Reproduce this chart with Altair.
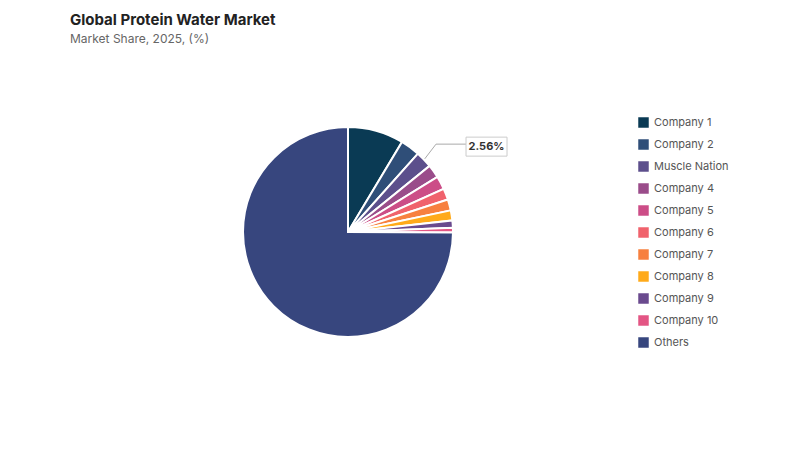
import altair as alt
import pandas as pd

companies = ["Company 1", "Company 2", "Muscle Nation", "Company 4", "Company 5",
             "Company 6", "Company 7", "Company 8", "Company 9", "Company 10", "Others"]
shares = [8.6, 3.0, 2.56, 2.06, 2.03, 1.75, 1.7, 1.55, 1.1, 0.72, 74.93]
colors = ["#0a3a54", "#2f4e78", "#5c4f8c", "#9a4c8a", "#cc4d87", "#f0626c",
          "#f7803f", "#ffaa1a", "#6a4a8e", "#e35584", "#37467e"]
label_company = "Muscle Nation"
label_text = "2.56%"

df = pd.DataFrame({"company": companies, "share": shares,
                   "idx": list(range(len(companies)))})

OX, OY = 70, 53          # plot origin on page
CX, CY = 348 - OX, 232 - OY
R = 105

base = alt.Chart(df)

pie = base.mark_arc(outerRadius=R, stroke="white", strokeWidth=2).encode(
    theta=alt.Theta("share:Q", stack=True),
    order=alt.Order("idx:Q"),
    color=alt.Color("company:N",
                    scale=alt.Scale(domain=companies, range=colors),
                    sort=companies,
                    legend=alt.Legend(title=None, orient="none", legendX=568, legendY=64,
                                      symbolType="square", symbolSize=110,
                                      symbolStrokeWidth=0, labelFontSize=11,
                                      labelColor="#555555", labelFont="Inter",
                                      rowPadding=10, labelOffset=5)),
    x=alt.value(CX), y=alt.value(CY),
)

geo = base.transform_window(
    cum="sum(share)", sort=[alt.SortField("idx")]
).transform_joinaggregate(
    total="sum(share)"
).transform_filter(
    alt.datum.company == label_company
).transform_calculate(
    mid="(datum.cum - datum.share/2)/datum.total*2*PI",
).transform_calculate(
    x0=f"{CX} + {R+1}*sin(datum.mid)",
    y0=f"{CY} - {R+1}*cos(datum.mid)",
    x1=f"{CX} + {R+18}*sin(datum.mid) - 1",
    y1=f"{CY} - {R+18}*cos(datum.mid) - 3",
).transform_calculate(
    x2="datum.x1 + 30",
    bx1="datum.x1 + 30",
    bx2="datum.x1 + 71",
    by1="datum.y1 - 7",
    by2="datum.y1 + 12",
    tx="datum.x1 + 50.5",
    ty="datum.y1 + 2.5",
)

lead1 = geo.mark_rule(color="#aaaaaa", strokeWidth=1).encode(
    x=alt.X("x0:Q", scale=None), y=alt.Y("y0:Q", scale=None),
    x2="x1:Q", y2="y1:Q")
lead2 = geo.mark_rule(color="#aaaaaa", strokeWidth=1).encode(
    x=alt.X("x1:Q", scale=None), y=alt.Y("y1:Q", scale=None),
    x2="x2:Q", y2="y1:Q")
box = geo.mark_rect(fill="white", stroke="#cccccc", strokeWidth=1).encode(
    x=alt.X("bx1:Q", scale=None), y=alt.Y("by1:Q", scale=None),
    x2="bx2:Q", y2="by2:Q")
txt = geo.mark_text(font="Inter", fontSize=11, fontWeight="bold", color="#333333").encode(
    x=alt.X("tx:Q", scale=None), y=alt.Y("ty:Q", scale=None),
    text=alt.value(label_text))

chart = alt.layer(pie, lead1, lead2, box, txt).properties(
    width=715, height=370,
    background="white",
    padding={"left": 62, "top": 5, "right": 5, "bottom": 5},
    title=alt.Title("Global Protein Water Market",
                    subtitle="Market Share, 2025, (%)",
                    anchor="start", frame="group",
                    font="Inter", fontSize=15, fontWeight="bold", color="#222222",
                    subtitleFont="Inter", subtitleFontSize=12, subtitleColor="#666666",
                    subtitlePadding=6, offset=8),
).configure_view(strokeWidth=0, stroke="transparent")

chart.save("out.html", embed_options={"renderer": "svg", "actions": False})
